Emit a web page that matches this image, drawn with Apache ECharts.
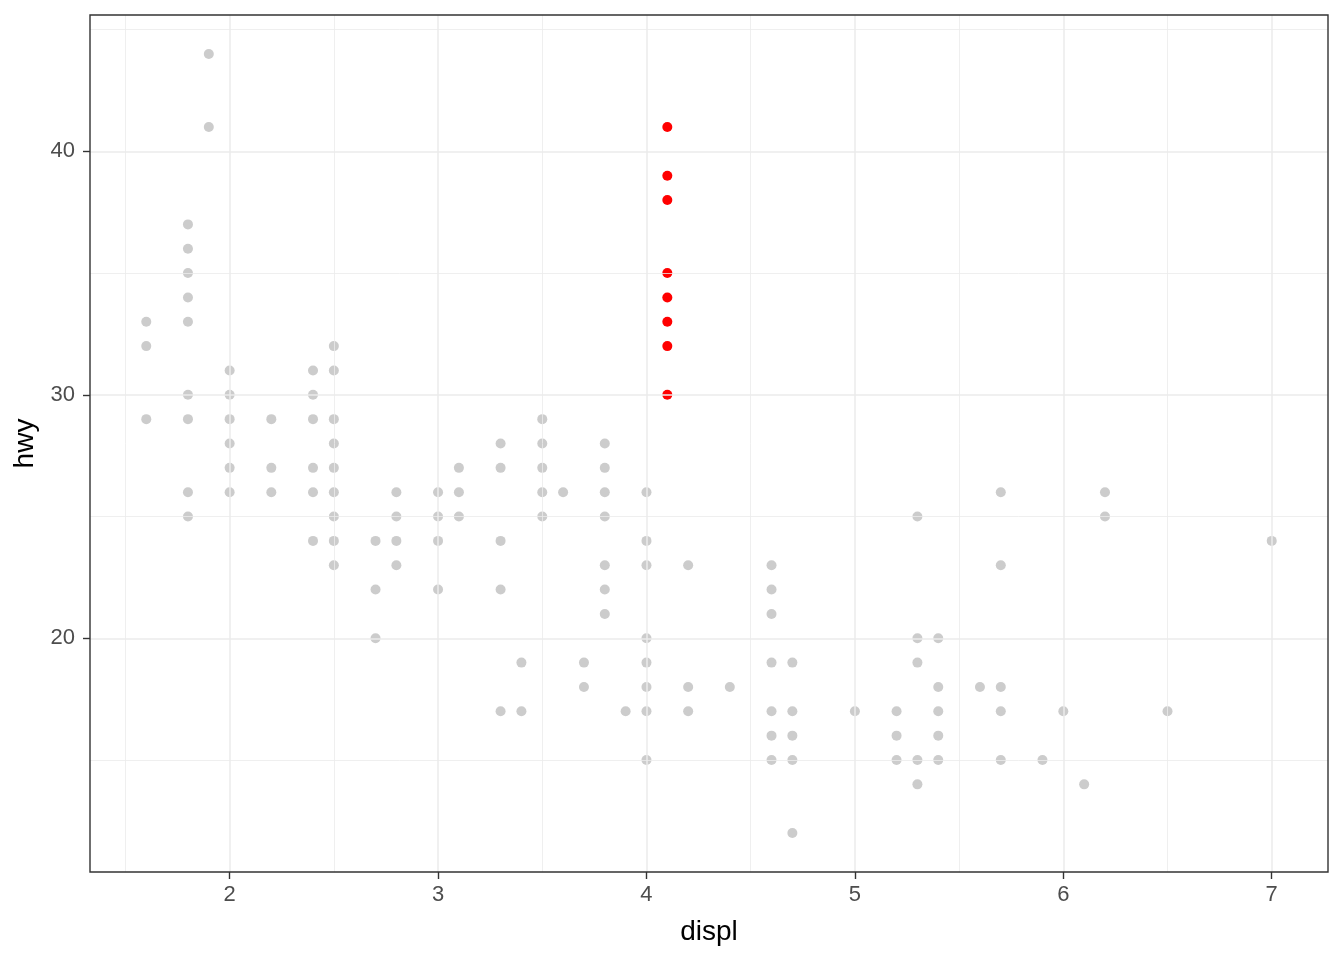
<!DOCTYPE html>
<html>
<head>
<meta charset="utf-8">
<script src="https://cdn.jsdelivr.net/npm/echarts@6/dist/echarts.min.js"></script>
<style>
html,body{margin:0;padding:0;background:#fff;}
#chart{width:1344px;height:960px;}
</style>
</head>
<body>
<div id="chart"></div>
<script>
// Grey points: [displ, hwy]
const greyPoints = [
  [1.6,33],[1.6,32],[1.6,29],
  [1.8,37],[1.8,36],[1.8,35],[1.8,34],[1.8,33],[1.8,30],[1.8,29],[1.8,26],[1.8,25],
  [1.9,44],[1.9,41],
  [2.0,31],[2.0,30],[2.0,29],[2.0,28],[2.0,27],[2.0,26],
  [2.2,29],[2.2,27],[2.2,26],
  [2.4,31],[2.4,30],[2.4,29],[2.4,27],[2.4,26],[2.4,24],
  [2.5,32],[2.5,31],[2.5,29],[2.5,28],[2.5,27],[2.5,26],[2.5,25],[2.5,24],[2.5,23],
  [2.7,24],[2.7,22],[2.7,20],
  [2.8,26],[2.8,25],[2.8,24],[2.8,23],
  [3.0,26],[3.0,25],[3.0,24],[3.0,22],
  [3.1,27],[3.1,26],[3.1,25],
  [3.3,28],[3.3,27],[3.3,24],[3.3,22],[3.3,17],
  [3.4,19],[3.4,17],
  [3.5,29],[3.5,28],[3.5,27],[3.5,26],[3.5,25],
  [3.6,26],
  [3.7,19],[3.7,18],
  [3.8,28],[3.8,27],[3.8,26],[3.8,25],[3.8,23],[3.8,22],[3.8,21],
  [3.9,17],
  [4.0,26],[4.0,24],[4.0,23],[4.0,20],[4.0,19],[4.0,18],[4.0,17],[4.0,15],
  [4.2,23],[4.2,18],[4.2,17],
  [4.4,18],
  [4.6,23],[4.6,22],[4.6,21],[4.6,19],[4.6,17],[4.6,16],[4.6,15],
  [4.7,19],[4.7,17],[4.7,16],[4.7,15],[4.7,12],
  [5.0,17],
  [5.2,17],[5.2,16],[5.2,15],
  [5.3,25],[5.3,20],[5.3,19],[5.3,15],[5.3,14],
  [5.4,20],[5.4,18],[5.4,17],[5.4,16],[5.4,15],
  [5.6,18],
  [5.7,26],[5.7,23],[5.7,18],[5.7,17],[5.7,15],
  [5.9,15],
  [6.0,17],
  [6.1,14],
  [6.2,26],[6.2,25],
  [6.5,17],
  [7.0,24]
];
// Highlighted points
const redPoints = [[4.1,41],[4.1,39],[4.1,38],[4.1,35],[4.1,34],[4.1,33],[4.1,32],[4.1,30]];

const xTicks = [2,3,4,5,6,7];
const xMinor = [1.5,2.5,3.5,4.5,5.5,6.5];
const yTicks = [20,30,40];
const yMinor = [15,25,35,45];
const xRange = [1.33, 7.27];
const yRange = [10.4, 45.6];

const majorColor = '#EBEBEB';
const gridLines = [];
xMinor.forEach(v => gridLines.push({xAxis: v, lineStyle:{color:majorColor, width:0.8, type:'solid'}}));
yMinor.forEach(v => gridLines.push({yAxis: v, lineStyle:{color:majorColor, width:0.8, type:'solid'}}));
xTicks.forEach(v => gridLines.push({xAxis: v, lineStyle:{color:majorColor, width:1.5, type:'solid'}}));
yTicks.forEach(v => gridLines.push({yAxis: v, lineStyle:{color:majorColor, width:1.5, type:'solid'}}));

const chart = echarts.init(document.getElementById('chart'), null, {renderer:'canvas'});
const font = 'Liberation Sans, Arial, sans-serif';
chart.setOption({
  animation: false,
  backgroundColor: '#fff',
  grid: {left: 90, top: 15, right: 16, bottom: 88, show: true, borderColor: '#333333', borderWidth: 1.4, backgroundColor: 'transparent', z: 10},
  xAxis: {
    type: 'value', min: xRange[0], max: xRange[1],
    name: 'displ', nameLocation: 'middle', nameGap: 46,
    nameTextStyle: {color: '#000', fontSize: 28, fontFamily: font},
    axisLine: {show: false},
    axisTick: {show: true, length: 7, inside: false, customValues: xTicks, lineStyle: {color: '#333333', width: 1.4}},
    axisLabel: {show: true, customValues: xTicks, margin: 12, color: '#4D4D4D', fontSize: 22, fontFamily: font},
    splitLine: {show: false}
  },
  yAxis: {
    type: 'value', min: yRange[0], max: yRange[1],
    name: 'hwy', nameLocation: 'middle', nameGap: 43,
    nameTextStyle: {color: '#000', fontSize: 28, fontFamily: font},
    axisLine: {show: false},
    axisTick: {show: true, length: 7, inside: false, customValues: yTicks, lineStyle: {color: '#333333', width: 1.4}},
    axisLabel: {show: true, customValues: yTicks, margin: 15, color: '#4D4D4D', fontSize: 22, fontFamily: font},
    splitLine: {show: false}
  },
  series: [
    {
      type: 'scatter', data: [], z: 1, silent: true,
      markLine: {silent: true, symbol: 'none', label: {show: false}, animation: false, data: gridLines}
    },
    {
      type: 'scatter', data: greyPoints, z: 2, symbol: 'circle', symbolSize: 10,
      itemStyle: {color: '#CCCCCC', opacity: 1}
    },
    {
      type: 'scatter', data: redPoints, z: 3, symbol: 'circle', symbolSize: 10,
      itemStyle: {color: '#FF0000', opacity: 1}
    }
  ]
});
</script>
</body>
</html>
